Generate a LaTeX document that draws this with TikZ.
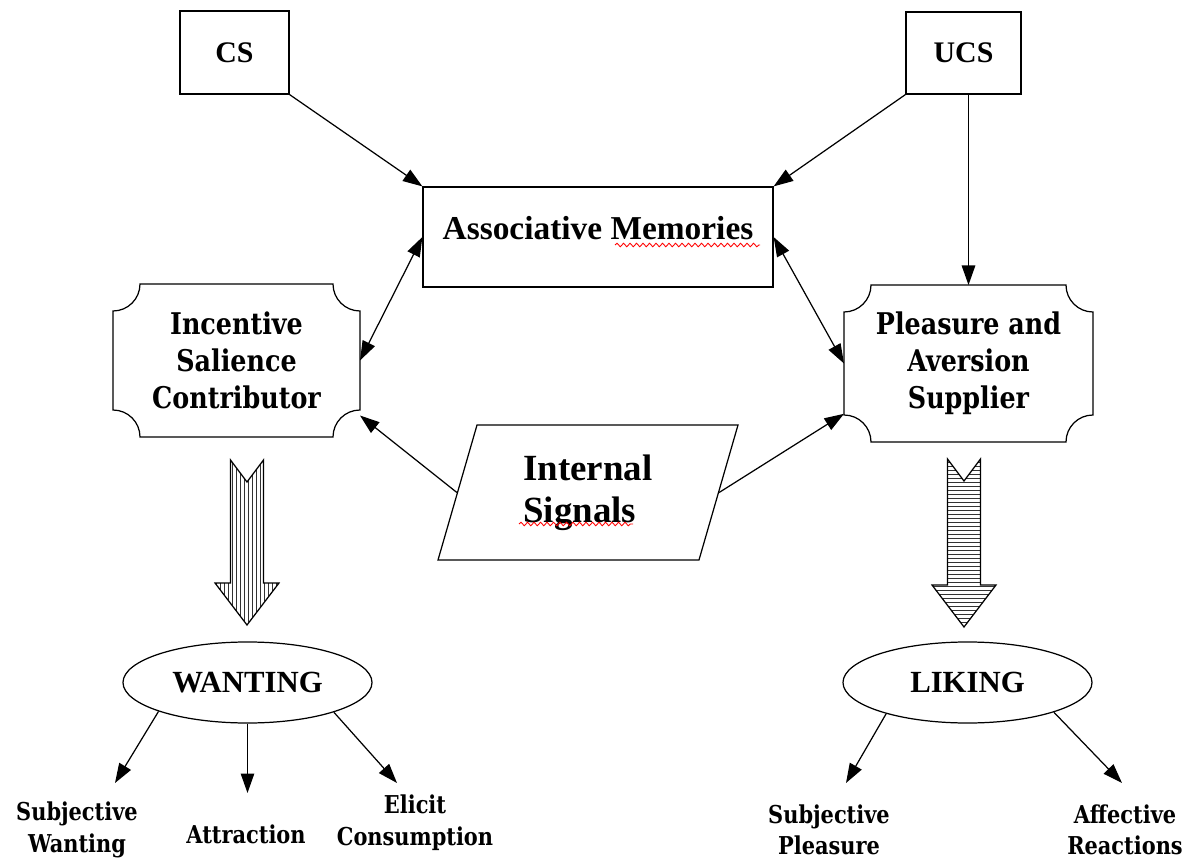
\documentclass[tikz,border=0pt]{standalone}
\usepackage{fontspec}
\setmainfont{Liberation Serif}
\newfontfamily\dejavu[FakeStretch=0.85]{DejaVu Serif}
\usetikzlibrary{positioning,arrows.meta,shapes.geometric,patterns.meta,calc,decorations.pathmorphing}

\tikzset{
  >={Triangle[length=3.9mm,width=2.7mm]},
  plainbox/.style={draw, rectangle, font=\bfseries\fontsize{17}{20}\selectfont},
  notched/.style={rectangle, outer sep=0pt, align=center, font=\dejavu\bfseries\fontsize{17}{21}\selectfont},
  oval/.style={draw, ellipse, minimum width=4.98cm, minimum height=1.62cm, font=\bfseries\fontsize{17.5}{20}\selectfont},
  outcome/.style={align=center, font=\dejavu\bfseries\fontsize{14}{18}\selectfont},
  squiggle/.style={red, line width=0.5pt, decorate, decoration={snake, amplitude=0.35mm, segment length=1.3mm}},
  vhatch/.style={draw, pattern={Lines[angle=90,distance=0.8mm,line width=0.45pt]}, pattern color=black!80},
  hhatch/.style={draw, pattern={Lines[angle=0,distance=0.8mm,line width=0.45pt]}, pattern color=black!80}
}

\def\nr{0.54cm}
\newcommand{\notchbox}[1]{%
  \draw ([yshift=-\nr]#1.north west) arc[start angle=270,end angle=360,radius=\nr]
    -- ([xshift=-\nr]#1.north east) arc[start angle=180,end angle=270,radius=\nr]
    -- ([yshift=\nr]#1.south east) arc[start angle=90,end angle=180,radius=\nr]
    -- ([xshift=\nr]#1.south west) arc[start angle=0,end angle=90,radius=\nr]
    -- cycle;}

\begin{document}
\begin{tikzpicture}[line width=0.7pt]
  \useasboundingbox (0,0) rectangle (23.84,-17.24);

  % stimuli and memory
  \node[plainbox, minimum width=2.18cm, minimum height=1.66cm] (cs) at (4.69,-1.05) {CS};
  \node[plainbox, minimum width=2.3cm, minimum height=1.64cm] (ucs) at (19.27,-1.06) {UCS};
  \node[plainbox, minimum width=7cm, minimum height=2cm, text depth=0.35cm,
        font=\bfseries\fontsize{19}{22}\selectfont] (assoc) at (11.96,-4.74) {Associative Memories};

  % the two systems
  \node[notched, minimum width=4.94cm, minimum height=3.06cm] (inc) at (4.73,-7.21) {Incentive\\Salience\\Contributor};
  \node[notched, minimum width=4.98cm, minimum height=3.14cm] (ples) at (19.37,-7.27) {Pleasure and\\Aversion\\Supplier};
  \notchbox{inc}
  \notchbox{ples}

  \node[draw, trapezium, trapezium left angle=66, trapezium right angle=114, trapezium stretches body,
        minimum width=6cm, minimum height=2.7cm, align=left,
        font=\bfseries\fontsize{21}{24}\selectfont] (sig) at (11.76,-9.85) {Internal\\Signals};

  % spell-check marks
  \draw[squiggle] (12.3,-4.9) -- (15.2,-4.9);
  \draw[squiggle] (10.38,-10.48) -- (12.66,-10.48);

  % big hatched arrows
  \coordinate (wtop) at (4.94,-9.2);  \coordinate (wtip) at (4.94,-12.5);
  \coordinate (ltop) at (19.28,-9.18); \coordinate (ltip) at (19.28,-12.54);
  \foreach \t/\h/\p in {wtop/wtip/vhatch, ltop/ltip/hhatch}
    \draw[\p] ($(\t)+(-0.33,0)$) -- ($(\t)+(0,-0.44)$) -- ($(\t)+(0.33,0)$) -- ($(\h)+(0.33,0.84)$)
      -- ($(\h)+(0.64,0.84)$) -- (\h) -- ($(\h)+(-0.64,0.84)$) -- ($(\h)+(-0.33,0.84)$) -- cycle;

  % outcomes
  \node[oval] (want) at (4.95,-13.65) {WANTING};
  \node[oval] (like) at (19.35,-13.65) {LIKING};

  \node[outcome] (subw) at (1.54,-16.6) {Subjective\\Wanting};
  \node[outcome] (attr) at (4.92,-16.68) {Attraction};
  \node[outcome] (elic) at (8.3,-16.45) {Elicit\\Consumption};
  \node[outcome] (subp) at (16.58,-16.6) {Subjective\\Pleasure};
  \node[outcome] (affr) at (22.5,-16.6) {Affective\\Reactions};

  \coordinate (subw-in) at (2.3,-15.66);
  \coordinate (attr-in) at (4.95,-15.86);
  \coordinate (elic-in) at (7.94,-15.66);
  \coordinate (subp-in) at (16.92,-15.66);
  \coordinate (affr-in) at (22.44,-15.66);

  % connectors
  \draw[->] (cs.south east) -- (assoc.north west);
  \draw[->] (ucs.south west) -- (assoc.north east);
  \draw[->] (ucs.south -| ples.north) -- (ples.north);
  \draw[<->] (assoc.west) -- (inc.east);
  \draw[<->] (assoc.east) -- (ples.west);
  \draw[->] (sig.left side) -- (inc.336);
  \draw[->] (sig.right side) -- (ples.202);

  \draw[->] (want.198) -- (subw-in);
  \draw[->] (want.south) -- (attr-in);
  \draw[->] (want.341) -- (elic-in);
  \draw[->] (like.201) -- (subp-in);
  \draw[->] (like.341) -- (affr-in);
\end{tikzpicture}
\end{document}
